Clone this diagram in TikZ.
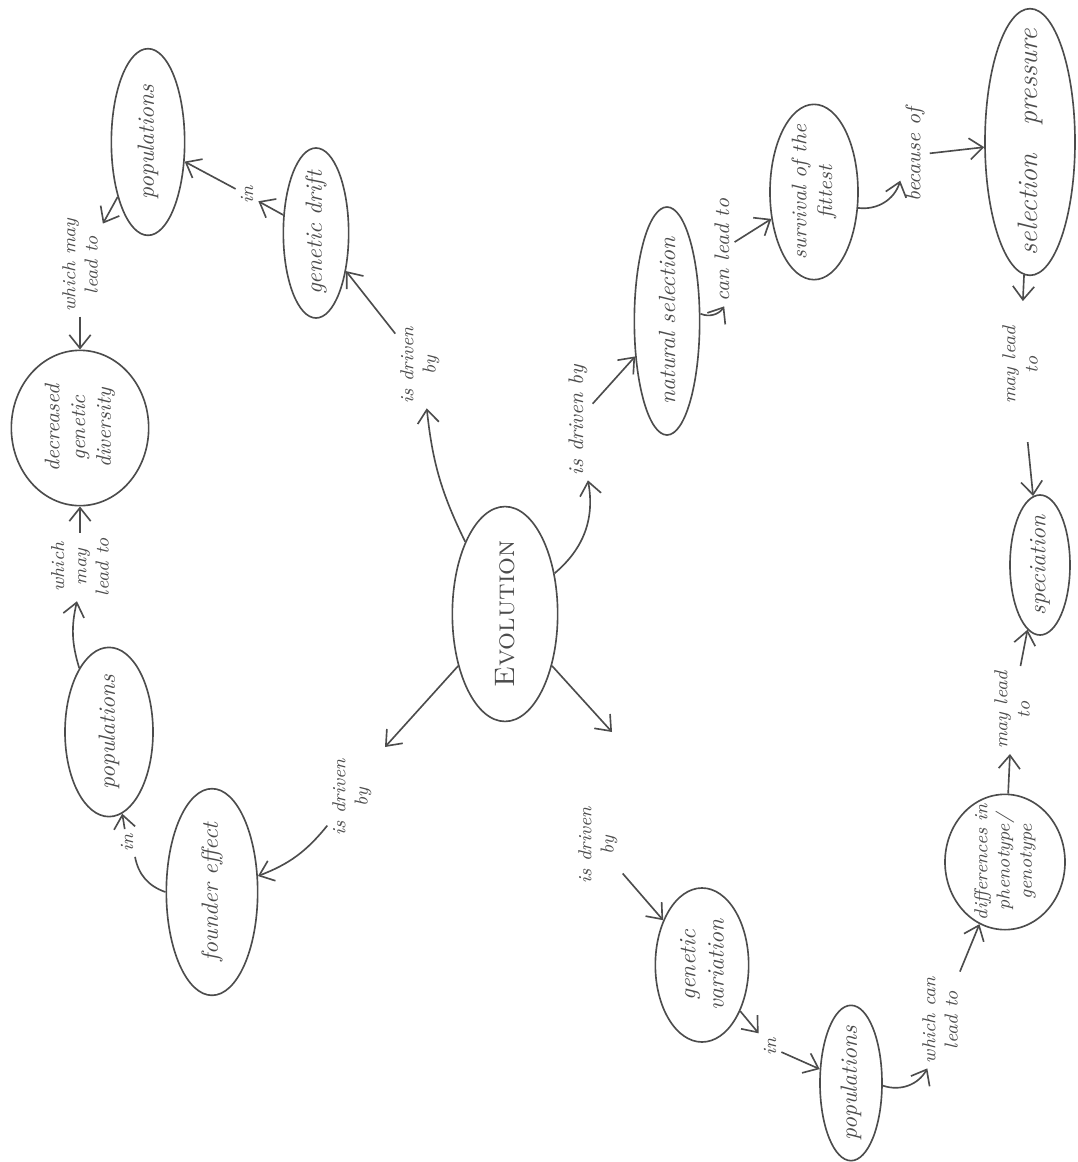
\documentclass[tikz,border=0pt]{standalone}
\usepackage{tikz}
\usetikzlibrary{arrows.meta,shapes.geometric}
\definecolor{ink}{gray}{0.3}

\begin{document}
\begin{tikzpicture}[x=0.015cm, y=-0.015cm,
    >={Straight Barb[length=2mm,width=3.2mm]},
    concept/.style={ellipse, draw=ink, line width=0.7pt, text=ink, rotate=90,
      align=center, inner sep=1pt, font=\itshape},
    linkword/.style={rotate=90, align=center, text=ink, inner sep=2pt,
      font=\footnotesize\itshape},
    link/.style={->, draw=ink, line width=0.7pt}]
  \useasboundingbox (0,0) rectangle (1078,1162);

  % Concepts
  \node[concept, minimum width=2.97cm, minimum height=1.58cm, font=\large\scshape] (evo) at (505,614) {Evolution};
  \node[concept, minimum width=2.55cm, minimum height=0.98cm, inner xsep=-2pt] (drift) at (316,233) {genetic drift};
  \node[concept, minimum width=2.8cm, minimum height=1.1cm] (popA) at (148,142) {populations};
  \node[concept, minimum width=2.33cm, minimum height=2.06cm, font=\small\itshape, inner xsep=-4pt, inner ysep=0pt] (decr) at (80,428) {decreased\\genetic\\diversity};
  \node[concept, minimum width=2.36cm, minimum height=1.32cm] (popB) at (109,732) {populations};
  \node[concept, minimum width=3.1cm, minimum height=1.37cm] (founder) at (212,892) {founder effect};
  \node[concept, minimum width=3.42cm, minimum height=0.98cm, inner xsep=-4pt] (natsel) at (667,321) {natural selection};
  \node[concept, minimum width=2.63cm, minimum height=1.32cm, font=\small\itshape, inner xsep=-4pt, inner ysep=0pt] (surv) at (814,192) {survival of the\\fittest};
  \node[concept, minimum width=4cm, minimum height=1.35cm, font=\large\itshape, inner xsep=-11pt] (selpr) at (1030,142) {selection\quad pressure};
  \node[concept, minimum width=2.1cm, minimum height=0.9cm, inner xsep=-2pt] (spec) at (1040,565) {speciation};
  \node[concept, minimum width=2.03cm, minimum height=1.8cm, font=\footnotesize\itshape, inner xsep=-5pt, inner ysep=0pt] (diff) at (1005,862) {differences in\\phenotype/\\genotype};
  \node[concept, minimum width=2.31cm, minimum height=1.4cm, inner xsep=-2pt] (genvar) at (702,965) {genetic\\variation};
  \node[concept, minimum width=2.33cm, minimum height=0.93cm, inner xsep=-2pt] (popC) at (851,1083) {populations};

  % Linking words
  \node[linkword] (l1) at (420,365) {is driven\\by};
  \node[linkword] (l2) at (247,195) {in};
  \node[linkword] (l3) at (80,265) {which may\\lead to};
  \node[linkword] (l4) at (80,567) {which\\may\\lead to};
  \node[linkword] (l5) at (127,843) {in};
  \node[linkword] (l6) at (352,797) {is driven\\by};
  \node[linkword, font=\small\itshape] (l7) at (578,420) {is driven by};
  \node[linkword, font=\small\itshape] (l8) at (722,250) {can lead to};
  \node[linkword, font=\small\itshape] (l9) at (915,155) {because of};
  \node[linkword] (l10) at (1020,365) {may lead\\to};
  \node[linkword] (l11) at (1012,710) {may lead\\to};
  \node[linkword] (l12) at (598,845) {is driven\\by};
  \node[linkword] (l13) at (770,1047) {in};
  \node[linkword] (l14) at (940,1020) {which can\\lead to};
  \coordinate (l6in) at (385,747);
  \coordinate (l12in) at (612,732);

  % Left loop
  \draw[link] (evo) to[bend left=10] (l1);
  \draw[link] (l1) -- (drift);
  \draw[link] (drift) -- (l2);
  \draw[link] (l2) -- (popA);
  \draw[link] (popA) -- (l3);
  \draw[link] (l3) -- (decr);
  \draw[link] (popB) to[bend left=15] (l4);
  \draw[link] (l4) -- (decr);
  \draw[draw=ink, line width=0.7pt] (founder) to[bend left=30] (l5);
  \draw[link] (l5) -- (popB);
  \draw[link] (evo) -- (l6in);
  \draw[link] (l6) to[bend left=15] (founder);

  % Right loop
  \draw[link] (evo) to[bend right=30] (l7);
  \draw[link] (l7) -- (natsel);
  \draw[link] (natsel) to[bend right=40] (l8);
  \draw[link] (l8) -- (surv);
  \draw[link] (surv) to[bend right=40] (l9);
  \draw[link] (l9) -- (selpr);
  \draw[link, shorten >=0.3cm] (selpr) -- (l10);
  \draw[link, shorten <=0.5cm] (l10) -- (spec);
  \draw[link] (diff) -- (l11);
  \draw[link] (l11) -- (spec);
  \draw[link] (evo) -- (l12in);
  \draw[link] (l12) -- (genvar);
  \draw[link] (genvar) -- (l13);
  \draw[link] (l13) -- (popC);
  \draw[link] (popC) to[bend right=40] (l14);
  \draw[link] (l14) -- (diff);
\end{tikzpicture}
\end{document}
